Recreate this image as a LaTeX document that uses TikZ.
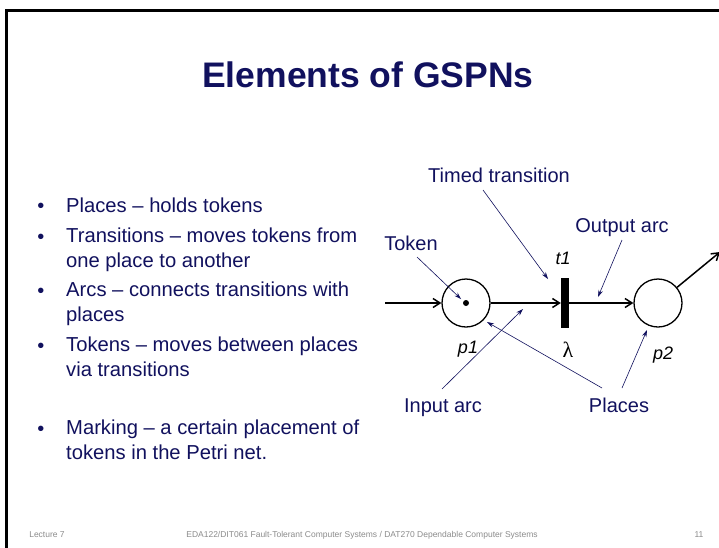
\documentclass[tikz,border=0pt]{standalone}
\usepackage{fontspec}
\setmainfont{Liberation Sans}
\newfontfamily\symfont{Liberation Serif}
\usetikzlibrary{arrows.meta}
\definecolor{navy}{RGB}{17,17,94}
\definecolor{footgray}{RGB}{140,140,140}
\begin{document}
\begin{tikzpicture}[x=1pt,y=-1pt,
  txt/.style={inner sep=0pt,text=navy,font=\fontsize{20}{24}\selectfont},
  item/.style={txt,anchor=base west,align=left,font=\fontsize{20.2}{24.5}\selectfont},
  bul/.style={inner sep=0pt,text=navy,anchor=base,font=\fontsize{20}{24}\selectfont},
  lbl/.style={inner sep=0pt,anchor=base,font=\fontsize{18}{20}\selectfont\itshape},
  place/.style={circle,draw,line width=1.3pt,minimum size=48pt,inner sep=0pt},
  trans/.style={rectangle,fill=black,minimum width=8pt,minimum height=50pt,inner sep=0pt},
  arc/.style={line width=1.5pt,-{Straight Barb[length=7pt,width=9pt,line width=1.5pt]}},
  note/.style={navy,line width=0.6pt,-{Stealth[length=7pt,width=4.5pt]}},
  foot/.style={inner sep=0pt,anchor=base,text=footgray,font=\fontsize{8.5}{10}\selectfont}]
\useasboundingbox (0,0) rectangle (719,547);
\clip (0,0) rectangle (719,547);
\fill[white] (0,0) rectangle (719,547);
\draw[line width=3pt] (6.5,600) -- (6.5,10.5) -- (760,10.5);
% title
\node[inner sep=0pt,anchor=base,text=navy,font=\fontsize{35.5}{42}\selectfont\bfseries] (title) at (368,87) {Elements of GSPNs};
% bullets
\foreach \y in {212,243,297,352,435} \node[bul] at (41,\y) {\textbullet};
\node[item] (b1) at (66,212) {Places -- holds tokens};
\node[item] (b2) at (66,267) {Transitions -- moves tokens from\\one place to another};
\node[item] (b3) at (66,321) {Arcs -- connects transitions with\\places};
\node[item] (b4) at (66,376) {Tokens -- moves between places\\via transitions};
\node[item] (b5) at (66,459) {Marking -- a certain placement of\\tokens in the Petri net.};
% net
\node[place] (p1) at (466,303) {};
\fill (p1.center) circle (3pt);
\node[trans] (t1) at (565,303) {};
\node[place] (p2) at (658,303) {};
\coordinate (in) at (385,303);
\coordinate (out) at (720,252);
\draw[arc] (in) -- (p1);
\draw[arc] (p1) -- (t1);
\draw[arc] (t1) -- (p2);
\draw[arc] (p2) -- (out);
\node[lbl] (t1l) at (563,264) {t1};
\node[inner sep=0pt,anchor=base,font=\fontsize{22}{24}\selectfont\symfont] (lam) at (568,357) {λ};
\node[lbl] (p1l) at (468,353) {p1};
\node[lbl] (p2l) at (663,359) {p2};
% annotations
\node[txt,anchor=base] (timed) at (499,182) {Timed transition};
\node[txt,anchor=base] (outarc) at (622,232) {Output arc};
\node[txt,anchor=base] (token) at (411,250) {Token};
\node[txt,anchor=base] (inarc) at (443,412) {Input arc};
\node[txt,anchor=base] (places) at (619,412) {Places};
\coordinate (a1) at (548,279);
\coordinate (a2) at (598,297);
\coordinate (a3) at (461,299);
\coordinate (a4) at (523,309);
\coordinate (a5) at (487,322);
\coordinate (a6) at (647,330);
\draw[note] (483,190) -- (a1);
\draw[note] (622,240) -- (a2);
\draw[note] (417,257) -- (a3);
\draw[note] (442,389) -- (a4);
\draw[note] (602,388) -- (a5);
\draw[note] (622,388) -- (a6);
% footer
\node[foot] (f1) at (47,537) {Lecture 7};
\node[foot] (f2) at (362,537) {EDA122/DIT061 Fault-Tolerant Computer Systems / DAT270 Dependable Computer Systems};
\node[foot] (f3) at (699,537) {11};
\end{tikzpicture}
\end{document}
